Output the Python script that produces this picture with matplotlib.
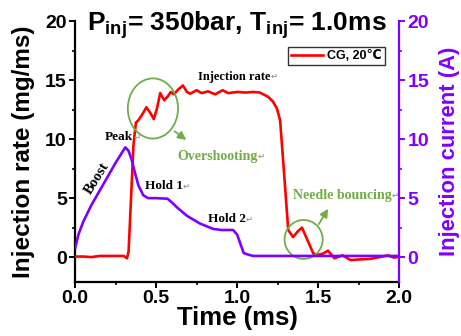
import matplotlib
matplotlib.use("Agg")
import matplotlib.pyplot as plt
from matplotlib.patches import Ellipse
from matplotlib.ticker import MultipleLocator

plt.rcParams['font.family'] = ['Liberation Sans', 'DejaVu Sans']
plt.rcParams['font.weight'] = 'bold'
plt.rcParams['mathtext.fontset'] = 'custom'
plt.rcParams['mathtext.rm'] = 'Liberation Sans:bold'
plt.rcParams['mathtext.bf'] = 'Liberation Sans:bold'

# ---- data ----
rate_t = [0.0, 0.05, 0.10, 0.15, 0.20, 0.25, 0.30, 0.32, 0.33, 0.345, 0.36, 0.375, 0.39,
          0.41, 0.44, 0.465, 0.485, 0.505, 0.525, 0.55, 0.57, 0.59, 0.61, 0.635, 0.665,
          0.69, 0.71, 0.75, 0.78, 0.82, 0.865, 0.91, 0.945, 1.0, 1.05, 1.10, 1.14, 1.19,
          1.22, 1.245, 1.265, 1.29, 1.315, 1.345, 1.375, 1.40, 1.435, 1.47, 1.50, 1.53,
          1.56, 1.60, 1.65, 1.70, 1.75, 1.82, 1.88, 1.93, 1.97, 2.0]
rate_v = [0.05, 0.05, 0.0, 0.1, 0.1, 0.1, 0.1, -0.1, 0.5, 5.0, 9.5, 11.4, 11.6,
          12.0, 12.7, 12.2, 11.7, 12.6, 13.9, 13.3, 13.6, 14.0, 13.8, 14.2, 14.55,
          14.0, 13.85, 14.15, 13.9, 14.05, 13.8, 14.15, 13.9, 14.0, 13.95, 14.0, 13.95, 13.6,
          13.2, 12.6, 11.6, 7.0, 2.3, 1.7, 2.2, 2.5, 1.4, 0.3, 0.2, 0.3,
          0.55, -0.1, 0.15, -0.25, -0.2, -0.15, 0.0, 0.15, -0.05, 0.05]

curr_t = [0.0, 0.02, 0.05, 0.10, 0.15, 0.20, 0.25, 0.30, 0.31, 0.33, 0.35, 0.37, 0.39,
          0.42, 0.45, 0.50, 0.57, 0.60, 0.63, 0.69, 0.77, 0.85, 0.90, 0.975, 1.0,
          1.04, 1.07, 1.10, 1.30, 1.50, 1.70, 1.90, 2.0]
curr_v = [0.75, 1.9, 3.0, 4.4, 5.6, 6.8, 8.0, 9.1, 9.3, 9.0, 8.2, 7.1, 6.1,
          5.25, 5.0, 5.0, 4.95, 4.6, 4.2, 3.5, 2.85, 2.4, 2.3, 2.3, 1.9,
          0.35, 0.2, 0.1, 0.1, 0.1, 0.1, 0.1, 0.1]

x_ticks = [0.0, 0.5, 1.0, 1.5, 2.0]
y_ticks = [0, 5, 10, 15, 20]

RED = '#FF0000'
PURPLE = '#8000FF'
GREEN = '#70AD47'

fig = plt.figure(figsize=(4.61, 3.36), dpi=100)
ax = fig.add_axes([0.163, 0.161, 0.703, 0.776])
ax2 = ax.twinx()

ax.plot(rate_t, rate_v, color=RED, lw=1.9, zorder=3, label='CG, 20℃')
ax2.plot(curr_t, curr_v, color=PURPLE, lw=1.9, zorder=2)

ax.set_xlim(0, 2.0)
ax.set_ylim(-2.1, 20)
ax2.set_ylim(-2.1, 20)
ax.set_xticks(x_ticks)
ax.set_xticklabels([f'{v:.1f}' for v in x_ticks])
ax.set_yticks(y_ticks)
ax2.set_yticks(y_ticks)
ax.xaxis.set_minor_locator(MultipleLocator(0.25))
ax.yaxis.set_minor_locator(MultipleLocator(2.5))
ax2.yaxis.set_minor_locator(MultipleLocator(2.5))

for a in (ax, ax2):
    a.spines['top'].set_visible(False)
    for s in a.spines.values():
        s.set_linewidth(1.6)
ax.spines['right'].set_visible(False)
ax2.spines['left'].set_visible(False)
ax2.spines['bottom'].set_visible(False)
ax2.spines['right'].set_color(PURPLE)

ax.tick_params(which='major', direction='out', length=4, width=1.4, labelsize=14, pad=2)
ax.tick_params(which='minor', direction='out', length=2.5, width=1.2)
ax2.tick_params(which='major', direction='out', length=4, width=1.4, labelsize=14,
                colors=PURPLE, pad=2)
ax2.tick_params(which='minor', direction='out', length=2.5, width=1.2, colors=PURPLE)

ax.set_xlabel('Time (ms)', fontsize=18.5, fontweight='bold', labelpad=-1)
ax.set_ylabel('Injection rate (mg/ms)', fontsize=17.5, fontweight='bold', labelpad=7)
ax2.set_ylabel('Injection current (A)', fontsize=15.8, fontweight='bold', color=PURPLE,
               labelpad=7)

ax.text(0.5, 0.985, r'P$_{\bf inj}$= 350bar, T$_{\bf inj}$= 1.0ms', transform=ax.transAxes,
        ha='center', va='center', fontsize=19, fontweight='bold')

leg = ax.legend(loc='upper right', bbox_to_anchor=(0.955, 0.9), fontsize=9,
                frameon=True, fancybox=False, handlelength=2.6, handletextpad=0.3,
                borderpad=0.25, borderaxespad=0)
leg.get_frame().set_edgecolor('black')
leg.get_frame().set_linewidth(1.0)
for t in leg.get_texts():
    t.set_fontweight('bold')

serif = ['Liberation Serif', 'DejaVu Serif']


def label(x, y, s, color='black', size=9.5):
    t = ax.text(x, y, s, fontsize=size, fontweight='bold', family=serif, color=color,
                ha='left', va='center', zorder=5)
    ax.annotate('↵', xy=(1, 0.5), xycoords=t, va='center', ha='left', fontsize=6,
                color='#9a9a9a', family=['DejaVu Sans'])
    return t


label(0.76, 15.3, 'Injection rate', size=9)
label(0.185, 10.2, 'Peak')
ax.text(0.135, 6.7, 'Boost', fontsize=10.5, fontweight='bold', family=serif, rotation=58,
        ha='center', va='center')
label(0.43, 6.0, 'Hold 1')
label(0.82, 3.2, 'Hold 2')
label(0.63, 8.55, 'Overshooting', color=GREEN, size=10)
label(1.345, 5.25, 'Needle bouncing', color=GREEN, size=10)

ax.add_patch(Ellipse((0.48, 12.6), 0.31, 5.1, fill=False, edgecolor=GREEN, lw=1.3, zorder=4))
ax.add_patch(Ellipse((1.41, 1.5), 0.235, 3.3, fill=False, edgecolor=GREEN, lw=1.3, zorder=4))
ax.annotate('', xy=(0.70, 9.8), xytext=(0.60, 10.8),
            arrowprops=dict(arrowstyle='-|>', color=GREEN, lw=1.3, mutation_scale=12))
ax.annotate('', xy=(1.57, 4.3), xytext=(1.495, 2.6),
            arrowprops=dict(arrowstyle='-|>', color=GREEN, lw=1.3, mutation_scale=12))

fig.savefig('out.png', dpi=100)
